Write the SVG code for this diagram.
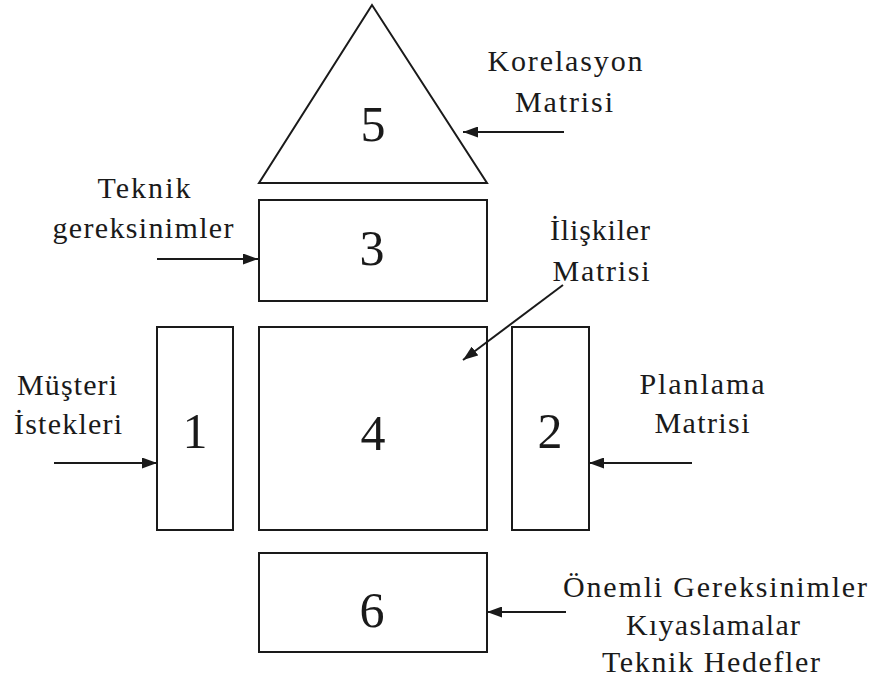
<svg xmlns="http://www.w3.org/2000/svg" width="872" height="686" viewBox="0 0 872 686">
<style>
.shape{fill:#fff;stroke:#1a1a1a;stroke-width:2}
.lbl{font-family:"Liberation Serif","Times New Roman",serif;font-size:30px;fill:#1a1a1a;text-anchor:middle}
.num{font-family:"Liberation Serif","Times New Roman",serif;font-size:50px;fill:#1a1a1a;text-anchor:middle}
.arr{stroke:#1a1a1a;stroke-width:2;fill:none;marker-end:url(#ah)}
</style>
<defs>
<marker id="ah" viewBox="0 0 15 11" refX="15" refY="5.5" markerWidth="15" markerHeight="11" markerUnits="userSpaceOnUse" orient="auto">
<path d="M0,0 L15,5.5 L0,11 Z" fill="#1a1a1a"/>
</marker>
</defs>
<rect width="872" height="686" fill="#fff"/>
<g id="node5"><polygon class="shape" points="372,5 259,183 487,183"/><text class="num" x="373" y="141">5</text></g>
<g id="node3"><rect class="shape" x="259" y="200" width="228" height="101"/><text class="num" x="372" y="265">3</text></g>
<g id="node1"><rect class="shape" x="157" y="327" width="76" height="203"/><text class="num" x="195" y="448">1</text></g>
<g id="node4"><rect class="shape" x="259" y="327" width="228" height="203"/><text class="num" x="373" y="450">4</text></g>
<g id="node2"><rect class="shape" x="512" y="327" width="77" height="203"/><text class="num" x="550" y="448">2</text></g>
<g id="node6"><rect class="shape" x="259" y="553" width="228" height="99"/><text class="num" x="372" y="627">6</text></g>
<g id="labels">
<text class="lbl" x="565" y="71" textLength="155" lengthAdjust="spacing">Korelasyon</text>
<text class="lbl" x="564" y="112" textLength="98" lengthAdjust="spacing">Matrisi</text>
<text class="lbl" x="144" y="198" textLength="93" lengthAdjust="spacing">Teknik</text>
<text class="lbl" x="143" y="238" textLength="181" lengthAdjust="spacing">gereksinimler</text>
<text class="lbl" x="600" y="240" textLength="100" lengthAdjust="spacing">İlişkiler</text>
<text class="lbl" x="601" y="281" textLength="97" lengthAdjust="spacing">Matrisi</text>
<text class="lbl" x="67" y="395" textLength="100" lengthAdjust="spacing">Müşteri</text>
<text class="lbl" x="68" y="434" textLength="108" lengthAdjust="spacing">İstekleri</text>
<text class="lbl" x="702" y="394" textLength="125" lengthAdjust="spacing">Planlama</text>
<text class="lbl" x="702" y="433" textLength="95" lengthAdjust="spacing">Matrisi</text>
<text class="lbl" x="715" y="597" textLength="304" lengthAdjust="spacing">Önemli Gereksinimler</text>
<text class="lbl" x="713" y="635" textLength="174" lengthAdjust="spacing">Kıyaslamalar</text>
<text class="lbl" x="711" y="672" textLength="218" lengthAdjust="spacing">Teknik Hedefler</text>
</g>
<g id="connectors">
<line class="arr" x1="564" y1="132" x2="463" y2="132"/>
<line class="arr" x1="157" y1="259" x2="258" y2="259"/>
<line class="arr" x1="563" y1="285" x2="463" y2="360"/>
<line class="arr" x1="54" y1="463" x2="157" y2="463"/>
<line class="arr" x1="692" y1="463" x2="589" y2="463"/>
<line class="arr" x1="566" y1="612" x2="487" y2="612"/>
</g>
</svg>
